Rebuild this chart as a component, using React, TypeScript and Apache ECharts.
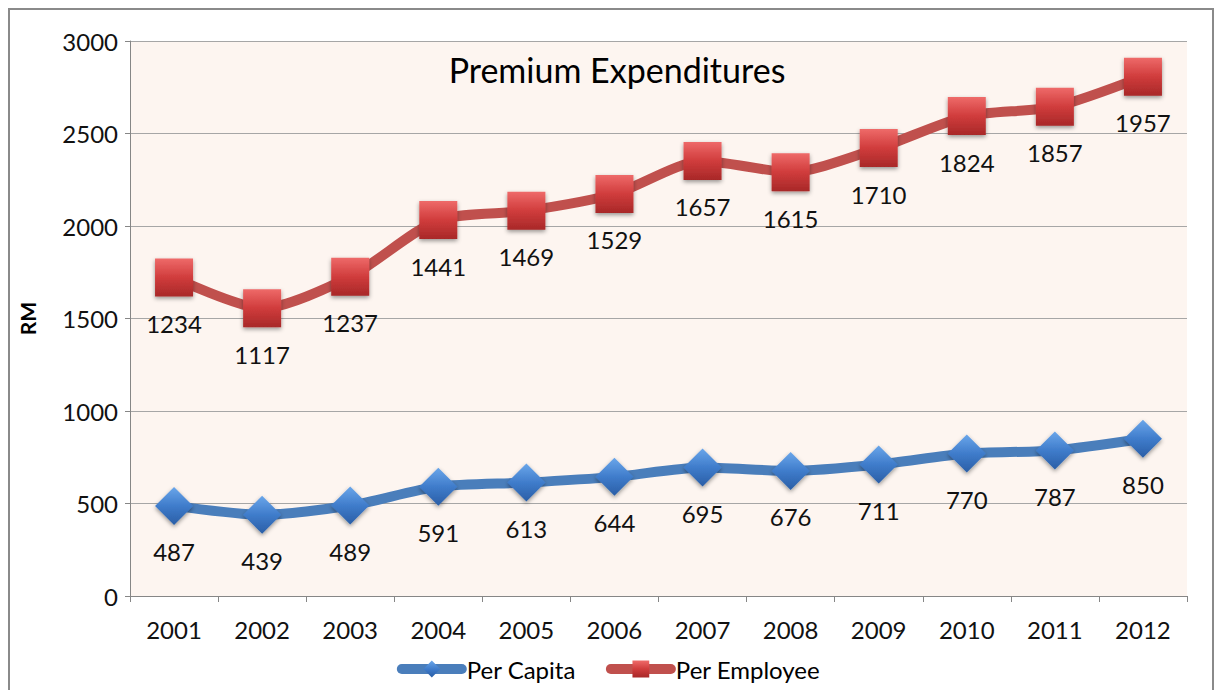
import React, { useEffect, useRef } from "react";
import * as echarts from "echarts";

const years = ["2001", "2002", "2003", "2004", "2005", "2006", "2007", "2008", "2009", "2010", "2011", "2012"];
const perCapita = [487, 439, 489, 591, 613, 644, 695, 676, 711, 770, 787, 850];
const perEmployee = [1234, 1117, 1237, 1441, 1469, 1529, 1657, 1615, 1710, 1824, 1857, 1957];

const FONT = "Lato, 'Open Sans', sans-serif";

export default function App() {
  const ref = useRef<HTMLDivElement>(null);
  useEffect(() => {
    if (!ref.current) return;
    const chart = echarts.init(ref.current, undefined, { renderer: "svg" });
    const blueGrad = new echarts.graphic.LinearGradient(0, 0, 0, 1, [
      { offset: 0, color: "#6aa6ea" },
      { offset: 0.5, color: "#3f7ccb" },
      { offset: 1, color: "#2a5ea6" },
    ]);
    const redGrad = new echarts.graphic.LinearGradient(0, 0, 0, 1, [
      { offset: 0, color: "#ee6a69" },
      { offset: 0.5, color: "#d03c3c" },
      { offset: 1, color: "#a82828" },
    ]);
    const labelStyle = {
      show: true,
      position: "bottom",
      distance: 15,
      fontFamily: FONT,
      fontSize: 24,
      color: "#111",
    };
    chart.setOption({
      animation: false,
      textStyle: { fontFamily: FONT },
      title: {
        text: "Premium Expenditures",
        left: 612,
        textAlign: "center",
        top: 47,
        textStyle: { fontFamily: FONT, fontSize: 34, fontWeight: "normal", color: "#000" },
      },
      graphic: [
        {
          type: "rect",
          shape: { x: 9, y: 9, width: 1204, height: 700 },
          style: { fill: "none", stroke: "#8a8a8a", lineWidth: 2 },
          silent: true,
        },
      ],
      legend: {
        left: "center",
        top: 652,
        itemWidth: 60,
        itemHeight: 21,
        itemGap: 30,
        lineStyle: { width: 10, cap: "round" },
        textStyle: { fontFamily: FONT, fontSize: 24, color: "#000" },
        data: ["Per Capita", "Per Employee"],
      },
      grid: {
        left: 130,
        right: 30,
        top: 41,
        bottom: 94,
        show: true,
        backgroundColor: "#fdf5f0",
        borderWidth: 0,
      },
      xAxis: {
        type: "category",
        data: years,
        boundaryGap: true,
        axisLine: { lineStyle: { color: "#868686", width: 1 } },
        axisTick: { show: true, length: 6, lineStyle: { color: "#868686" } },
        axisLabel: { fontFamily: FONT, fontSize: 24, color: "#111", margin: 21 },
      },
      yAxis: {
        type: "value",
        min: 0,
        max: 3000,
        interval: 500,
        name: "RM",
        nameLocation: "middle",
        nameGap: 92,
        nameTextStyle: { fontFamily: FONT, fontSize: 21, fontWeight: "bold", color: "#000" },
        axisLine: { show: true, lineStyle: { color: "#868686", width: 1 } },
        axisTick: { show: true, length: 5, lineStyle: { color: "#868686" } },
        axisLabel: {
          fontFamily: FONT,
          fontSize: 24,
          color: "#111",
          margin: 12,
          formatter: (v: number) => String(v),
        },
        splitLine: { lineStyle: { color: "#a6a6a6", width: 1 } },
      },
      series: [
        {
          name: "Per Capita",
          type: "line",
          stack: "total",
          data: perCapita,
          smooth: 0.25,
          symbol: "diamond",
          symbolSize: 38,
          lineStyle: { color: "#4a7ebb", width: 10 },
          itemStyle: {
            color: blueGrad,
            shadowBlur: 4,
            shadowColor: "rgba(0,0,0,0.4)",
            shadowOffsetY: 2,
          },
          label: labelStyle,
          z: 3,
        },
        {
          name: "Per Employee",
          type: "line",
          stack: "total",
          data: perEmployee,
          smooth: 0.25,
          symbol: "rect",
          symbolSize: 38,
          lineStyle: { color: "#c0504d", width: 10 },
          itemStyle: {
            color: redGrad,
            shadowBlur: 4,
            shadowColor: "rgba(0,0,0,0.4)",
            shadowOffsetY: 2,
          },
          label: labelStyle,
          z: 3,
        },
      ],
    });
    return () => chart.dispose();
  }, []);
  return (
    <div
      ref={ref}
      style={{ position: "absolute", left: 0, top: 0, width: 1217, height: 690, background: "#fff" }}
    />
  );
}
